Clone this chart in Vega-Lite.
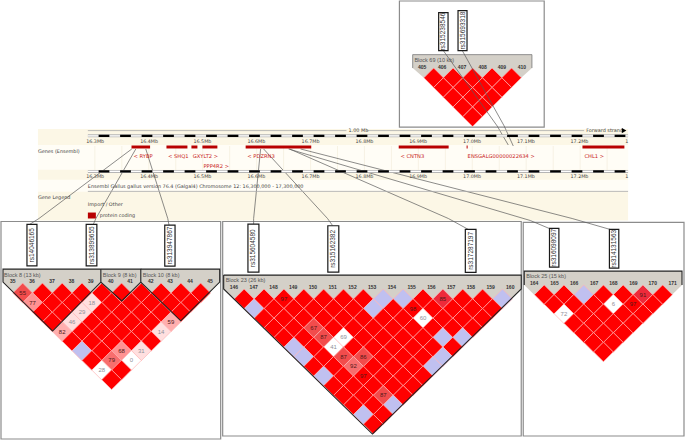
{"$schema":"https://vega.github.io/schema/vega-lite/v6.json","width":685,"height":440,"padding":0,"autosize":{"type":"fit","contains":"padding"},"background":"white","config":{"view":{"stroke":null}},"resolve":{"scale":{"x":"independent","y":"independent"}},
"datasets":{
"bands":[{"x":37,"x2":628,"y":130,"y2":222}],
"paleBands":[{"x":37,"x2":628,"y":146,"y2":171},{"x":37,"x2":628,"y":181,"y2":193}],
"gridTicks":[{"x":94},{"x":121},{"x":148},{"x":175},{"x":202},{"x":229},{"x":256},{"x":283},{"x":310},{"x":337},{"x":364},{"x":391},{"x":418},{"x":445},{"x":472},{"x":499},{"x":526},{"x":553},{"x":580},{"x":607}],
"frames":[{"x":0,"x2":220,"y":223,"y2":442},{"x":222,"x2":521,"y":223,"y2":439},{"x":523,"x2":684,"y":224,"y2":439},{"x":399,"x2":544,"y":1,"y2":128}],
"headers":[{"panel":"A","x":2,"y":271,"y2":284},{"panel":"A","x":12.7,"y":271,"y2":295},{"panel":"A","x":209,"y":271,"y2":295},{"panel":"A","x":219,"y":271,"y2":284},{"panel":"B","x":223,"y":277,"y2":291},{"panel":"B","x":233.5,"y":277,"y2":301},{"panel":"B","x":511,"y":277,"y2":301},{"panel":"B","x":521,"y":277,"y2":291},{"panel":"C","x":524,"y":273,"y2":287},{"panel":"C","x":534,"y":273,"y2":296.7},{"panel":"C","x":672,"y":273,"y2":296.7},{"panel":"C","x":682,"y":273,"y2":287},{"panel":"D","x":412.3,"y":55,"y2":68.5},{"panel":"D","x":423.5,"y":55,"y2":78.3},{"panel":"D","x":521,"y":55,"y2":78.3},{"panel":"D","x":531.7,"y":55,"y2":68.5}],
"cellsA":[{"p":0,"r":0,"ld":"t80","t":"55"},{"p":1,"r":0,"ld":"s"},{"p":2,"r":0,"ld":"s"},{"p":3,"r":0,"ld":"s"},{"p":4,"r":0,"ld":"s"},{"p":5,"r":0,"ld":"s"},{"p":6,"r":0,"ld":"s"},{"p":7,"r":0,"ld":"s"},{"p":8,"r":0,"ld":"s"},{"p":9,"r":0,"ld":"s"},
{"p":0.5,"r":1,"ld":"t60","t":"77"},{"p":1.5,"r":1,"ld":"s"},{"p":2.5,"r":1,"ld":"s"},{"p":3.5,"r":1,"ld":"t20","t":"18"},{"p":4.5,"r":1,"ld":"s"},{"p":5.5,"r":1,"ld":"s"},{"p":6.5,"r":1,"ld":"s"},{"p":7.5,"r":1,"ld":"s"},{"p":8.5,"r":1,"ld":"s"},
{"p":1,"r":2,"ld":"s"},{"p":2,"r":2,"ld":"s"},{"p":3,"r":2,"ld":"t20","t":"29"},{"p":4,"r":2,"ld":"s"},{"p":5,"r":2,"ld":"s"},{"p":6,"r":2,"ld":"s"},{"p":7,"r":2,"ld":"s"},{"p":8,"r":2,"ld":"s"},
{"p":1.5,"r":3,"ld":"s"},{"p":2.5,"r":3,"ld":"t20","t":"46"},{"p":3.5,"r":3,"ld":"s"},{"p":4.5,"r":3,"ld":"s"},{"p":5.5,"r":3,"ld":"s"},{"p":6.5,"r":3,"ld":"s"},{"p":7.5,"r":3,"ld":"t50","t":"59"},
{"p":2,"r":4,"ld":"t50","t":"82"},{"p":3,"r":4,"ld":"s"},{"p":4,"r":4,"ld":"s"},{"p":5,"r":4,"ld":"s"},{"p":6,"r":4,"ld":"s"},{"p":7,"r":4,"ld":"t20","t":"14"},
{"p":2.5,"r":5,"ld":"s"},{"p":3.5,"r":5,"ld":"s"},{"p":4.5,"r":5,"ld":"s"},{"p":5.5,"r":5,"ld":"s"},{"p":6.5,"r":5,"ld":"s"},
{"p":3,"r":6,"ld":"b"},{"p":4,"r":6,"ld":"s"},{"p":5,"r":6,"ld":"t60","t":"68"},{"p":6,"r":6,"ld":"t20","t":"31"},
{"p":3.5,"r":7,"ld":"s"},{"p":4.5,"r":7,"ld":"t70","t":"79"},{"p":5.5,"r":7,"ld":"o","t":"0"},
{"p":4,"r":8,"ld":"o","t":"28"},{"p":5,"r":8,"ld":"s"},
{"p":4.5,"r":9,"ld":"s"}],
"cellsB":[{"p":0,"r":0,"ld":"s"},{"p":1,"r":0,"ld":"s"},{"p":2,"r":0,"ld":"s","t":"97"},{"p":3,"r":0,"ld":"s"},{"p":4,"r":0,"ld":"s"},{"p":5,"r":0,"ld":"s"},{"p":6,"r":0,"ld":"s"},{"p":7,"r":0,"ld":"b"},{"p":8,"r":0,"ld":"b"},{"p":9,"r":0,"ld":"s"},{"p":10,"r":0,"ld":"t90","t":"85"},{"p":11,"r":0,"ld":"s"},{"p":12,"r":0,"ld":"s"},{"p":13,"r":0,"ld":"b"},
{"p":0.5,"r":1,"ld":"b"},{"p":1.5,"r":1,"ld":"s"},{"p":2.5,"r":1,"ld":"s"},{"p":3.5,"r":1,"ld":"s"},{"p":4.5,"r":1,"ld":"s"},{"p":5.5,"r":1,"ld":"s"},{"p":6.5,"r":1,"ld":"b"},{"p":7.5,"r":1,"ld":"s"},{"p":8.5,"r":1,"ld":"s","t":"98"},{"p":9.5,"r":1,"ld":"s"},{"p":10.5,"r":1,"ld":"s"},{"p":11.5,"r":1,"ld":"s"},{"p":12.5,"r":1,"ld":"s"},
{"p":1,"r":2,"ld":"s"},{"p":2,"r":2,"ld":"s"},{"p":3,"r":2,"ld":"s"},{"p":4,"r":2,"ld":"s"},{"p":5,"r":2,"ld":"s"},{"p":6,"r":2,"ld":"s"},{"p":7,"r":2,"ld":"s"},{"p":8,"r":2,"ld":"s"},{"p":9,"r":2,"ld":"o","t":"60"},{"p":10,"r":2,"ld":"s"},{"p":11,"r":2,"ld":"s"},{"p":12,"r":2,"ld":"s"},
{"p":1.5,"r":3,"ld":"s"},{"p":2.5,"r":3,"ld":"s"},{"p":3.5,"r":3,"ld":"t80","t":"67"},{"p":4.5,"r":3,"ld":"s"},{"p":5.5,"r":3,"ld":"s"},{"p":6.5,"r":3,"ld":"s"},{"p":7.5,"r":3,"ld":"s"},{"p":8.5,"r":3,"ld":"s"},{"p":9.5,"r":3,"ld":"s"},{"p":10.5,"r":3,"ld":"s"},{"p":11.5,"r":3,"ld":"s"},
{"p":2,"r":4,"ld":"s"},{"p":3,"r":4,"ld":"s"},{"p":4,"r":4,"ld":"t80","t":"87"},{"p":5,"r":4,"ld":"o","t":"69"},{"p":6,"r":4,"ld":"s"},{"p":7,"r":4,"ld":"s"},{"p":8,"r":4,"ld":"s"},{"p":9,"r":4,"ld":"s"},{"p":10,"r":4,"ld":"b"},{"p":11,"r":4,"ld":"b"},
{"p":2.5,"r":5,"ld":"b"},{"p":3.5,"r":5,"ld":"s"},{"p":4.5,"r":5,"ld":"o","t":"41"},{"p":5.5,"r":5,"ld":"s"},{"p":6.5,"r":5,"ld":"s"},{"p":7.5,"r":5,"ld":"s"},{"p":8.5,"r":5,"ld":"s"},{"p":9.5,"r":5,"ld":"s"},{"p":10.5,"r":5,"ld":"s"},
{"p":3,"r":6,"ld":"b"},{"p":4,"r":6,"ld":"s"},{"p":5,"r":6,"ld":"t80","t":"87"},{"p":6,"r":6,"ld":"t80","t":"86"},{"p":7,"r":6,"ld":"s"},{"p":8,"r":6,"ld":"s"},{"p":9,"r":6,"ld":"s"},{"p":10,"r":6,"ld":"b"},
{"p":3.5,"r":7,"ld":"s"},{"p":4.5,"r":7,"ld":"s"},{"p":5.5,"r":7,"ld":"t70","t":"92"},{"p":6.5,"r":7,"ld":"s"},{"p":7.5,"r":7,"ld":"s"},{"p":8.5,"r":7,"ld":"s"},{"p":9.5,"r":7,"ld":"b"},
{"p":4,"r":8,"ld":"b"},{"p":5,"r":8,"ld":"s"},{"p":6,"r":8,"ld":"s","t":"97"},{"p":7,"r":8,"ld":"s"},{"p":8,"r":8,"ld":"s"},{"p":9,"r":8,"ld":"s"},
{"p":4.5,"r":9,"ld":"s"},{"p":5.5,"r":9,"ld":"s"},{"p":6.5,"r":9,"ld":"s"},{"p":7.5,"r":9,"ld":"s"},{"p":8.5,"r":9,"ld":"s"},
{"p":5,"r":10,"ld":"s"},{"p":6,"r":10,"ld":"s"},{"p":7,"r":10,"ld":"t80","t":"87"},{"p":8,"r":10,"ld":"s"},
{"p":5.5,"r":11,"ld":"s"},{"p":6.5,"r":11,"ld":"s"},{"p":7.5,"r":11,"ld":"b"},
{"p":6,"r":12,"ld":"b"},{"p":7,"r":12,"ld":"s"},
{"p":6.5,"r":13,"ld":"s"}],
"cellsC":[{"p":0,"r":0,"ld":"s"},{"p":1,"r":0,"ld":"s"},{"p":2,"r":0,"ld":"b"},{"p":3,"r":0,"ld":"s"},{"p":4,"r":0,"ld":"s"},{"p":5,"r":0,"ld":"t90","t":"91"},{"p":6,"r":0,"ld":"s"},
{"p":0.5,"r":1,"ld":"s"},{"p":1.5,"r":1,"ld":"s"},{"p":2.5,"r":1,"ld":"s"},{"p":3.5,"r":1,"ld":"o","t":"6"},{"p":4.5,"r":1,"ld":"s","t":"97"},{"p":5.5,"r":1,"ld":"s"},
{"p":1,"r":2,"ld":"o","t":"72"},{"p":2,"r":2,"ld":"s"},{"p":3,"r":2,"ld":"s"},{"p":4,"r":2,"ld":"s"},{"p":5,"r":2,"ld":"s"},
{"p":1.5,"r":3,"ld":"s"},{"p":2.5,"r":3,"ld":"s"},{"p":3.5,"r":3,"ld":"s"},{"p":4.5,"r":3,"ld":"s"},
{"p":2,"r":4,"ld":"s"},{"p":3,"r":4,"ld":"s"},{"p":4,"r":4,"ld":"s"},
{"p":2.5,"r":5,"ld":"s"},{"p":3.5,"r":5,"ld":"s"},
{"p":3,"r":6,"ld":"s"}],
"cellsD":[{"p":0,"r":0,"ld":"s"},{"p":1,"r":0,"ld":"s"},{"p":2,"r":0,"ld":"s"},{"p":3,"r":0,"ld":"s"},{"p":4,"r":0,"ld":"s"},
{"p":0.5,"r":1,"ld":"s"},{"p":1.5,"r":1,"ld":"s"},{"p":2.5,"r":1,"ld":"s"},{"p":3.5,"r":1,"ld":"s"},
{"p":1,"r":2,"ld":"s"},{"p":2,"r":2,"ld":"s"},{"p":3,"r":2,"ld":"s"},
{"p":1.5,"r":3,"ld":"s"},{"p":2.5,"r":3,"ld":"s"},
{"p":2,"r":4,"ld":"s"}],
"outlines":[{"id":"b8","o":0,"x":100,"y":271},{"id":"b8","o":1,"x":2,"y":271},{"id":"b8","o":2,"x":2,"y":284},{"id":"b8","o":3,"x":51.7,"y":333.3},{"id":"b8","o":4,"x":100,"y":284},{"id":"b8","o":5,"x":100,"y":271},
{"id":"b9","o":0,"x":100,"y":271},{"id":"b9","o":1,"x":140,"y":271},{"id":"b9","o":2,"x":140,"y":284},{"id":"b9","o":3,"x":121,"y":303},{"id":"b9","o":4,"x":100,"y":284},
{"id":"b10","o":0,"x":140,"y":271},{"id":"b10","o":1,"x":219,"y":271},{"id":"b10","o":2,"x":219,"y":284},{"id":"b10","o":3,"x":180,"y":323},{"id":"b10","o":4,"x":140,"y":284},
{"id":"b23","o":0,"x":223,"y":277},{"id":"b23","o":1,"x":521,"y":277},{"id":"b23","o":2,"x":521,"y":291},{"id":"b23","o":3,"x":372,"y":437},{"id":"b23","o":4,"x":223,"y":291},{"id":"b23","o":5,"x":223,"y":277},
{"id":"b25","o":0,"x":524,"y":287},{"id":"b25","o":1,"x":524,"y":273},{"id":"b25","o":2,"x":682,"y":273},{"id":"b25","o":3,"x":682,"y":287}],
"softOutlines":[{"id":"b69","o":0,"x":412.3,"y":68.5},{"id":"b69","o":1,"x":412.3,"y":55},{"id":"b69","o":2,"x":531.7,"y":55},{"id":"b69","o":3,"x":531.7,"y":68.5}],
"connectors":[{"id":"c1","o":0,"x":131,"y":150},{"id":"c1","o":1,"x":38,"y":220},{"id":"c1","o":2,"x":27,"y":227},
{"id":"c2","o":0,"x":135,"y":150},{"id":"c2","o":1,"x":95,"y":220},{"id":"c2","o":2,"x":92,"y":227},
{"id":"c3","o":0,"x":145,"y":150},{"id":"c3","o":1,"x":167,"y":220},{"id":"c3","o":2,"x":168.3,"y":227},
{"id":"c4","o":0,"x":260,"y":150},{"id":"c4","o":1,"x":253,"y":220},{"id":"c4","o":2,"x":253,"y":226},
{"id":"c5","o":0,"x":263,"y":150},{"id":"c5","o":1,"x":327,"y":220},{"id":"c5","o":2,"x":332,"y":227},
{"id":"c6","o":0,"x":289,"y":150},{"id":"c6","o":1,"x":448,"y":220},{"id":"c6","o":2,"x":468,"y":231},
{"id":"c7","o":0,"x":288,"y":150},{"id":"c7","o":1,"x":530,"y":222},{"id":"c7","o":2,"x":549,"y":230},
{"id":"c8","o":0,"x":300,"y":150},{"id":"c8","o":1,"x":572,"y":220},{"id":"c8","o":2,"x":610,"y":231},
{"id":"t1","o":0,"x":443,"y":51},{"id":"t1","o":1,"x":497,"y":127},{"id":"t1","o":2,"x":508,"y":146},
{"id":"t2","o":0,"x":462,"y":51},{"id":"t2","o":1,"x":504,"y":127},{"id":"t2","o":2,"x":513,"y":147}],
"snpBoxes":[{"x":26,"x2":36,"y":226,"y2":267.7,"xc":31,"yc":247,"id":"rs14046165"},{"x":85.3,"x2":96,"y":226,"y2":267.7,"xc":90.7,"yc":247,"id":"rs313899655"},{"x":164,"x2":174.3,"y":226.7,"y2":268,"xc":169.2,"yc":247.3,"id":"rs313947867"},{"x":247.3,"x2":258.3,"y":225.7,"y2":274,"xc":252.8,"yc":250,"id":"rs315604580"},{"x":327.3,"x2":338.3,"y":227.3,"y2":274,"xc":332.8,"yc":250.6,"id":"rs315162382"},{"x":465,"x2":475.7,"y":231,"y2":274.3,"xc":470.4,"yc":252.6,"id":"rs317287197"},{"x":549.3,"x2":558.7,"y":230,"y2":269,"xc":554,"yc":249.5,"id":"rs316098097"},{"x":609.3,"x2":618.7,"y":231,"y2":270,"xc":614,"yc":250.5,"id":"rs314131563"},{"x":438.3,"x2":447.7,"y":12.7,"y2":51,"xc":443,"yc":31.8,"id":"rs315238546"},{"x":457.7,"x2":466.7,"y":10.7,"y2":51,"xc":462.2,"yc":30.8,"id":"rs315693318"}],
"snpNumbers":[{"x":11.7,"y":283,"t":"35"},{"x":31,"y":283,"t":"36"},{"x":51,"y":283,"t":"37"},{"x":70.7,"y":283,"t":"38"},{"x":90,"y":283,"t":"39"},{"x":110,"y":283,"t":"40"},{"x":129.3,"y":283,"t":"41"},{"x":150,"y":283,"t":"42"},{"x":169.3,"y":283,"t":"43"},{"x":189.3,"y":283,"t":"44"},{"x":209.3,"y":283,"t":"45"},
{"x":233.3,"y":288.7,"t":"146"},{"x":253.1,"y":288.7,"t":"147"},{"x":272.9,"y":288.7,"t":"148"},{"x":292.6,"y":288.7,"t":"149"},{"x":312.4,"y":288.7,"t":"150"},{"x":332.2,"y":288.7,"t":"151"},{"x":352,"y":288.7,"t":"152"},{"x":371.7,"y":288.7,"t":"153"},{"x":391.5,"y":288.7,"t":"154"},{"x":411.3,"y":288.7,"t":"155"},{"x":431,"y":288.7,"t":"156"},{"x":450.8,"y":288.7,"t":"157"},{"x":470.6,"y":288.7,"t":"158"},{"x":490.4,"y":288.7,"t":"159"},{"x":510,"y":288.7,"t":"160"},
{"x":534,"y":285,"t":"164"},{"x":554.3,"y":285,"t":"165"},{"x":574,"y":285,"t":"166"},{"x":594,"y":285,"t":"167"},{"x":613.3,"y":285,"t":"168"},{"x":633.3,"y":285,"t":"169"},{"x":652.7,"y":285,"t":"170"},{"x":672.7,"y":285,"t":"171"},
{"x":421.7,"y":67,"t":"405"},{"x":441.7,"y":67,"t":"406"},{"x":461.7,"y":67,"t":"407"},{"x":482.3,"y":67,"t":"408"},{"x":501.7,"y":67,"t":"409"},{"x":521.7,"y":67,"t":"410"}],
"blockTitles":[{"x":3,"y":276.5,"t":"Block 8 (13 kb)"},{"x":102,"y":276.5,"t":"Block 9 (8 kb)"},{"x":142,"y":276.5,"t":"Block 10 (8 kb)"},{"x":225,"y":282,"t":"Block 23 (26 kb)"},{"x":526,"y":278,"t":"Block 25 (15 kb)"},{"x":414,"y":60.7,"t":"Block 69 (10 kb)"}],
"genes":[{"x":130.7,"x2":149.3,"y":146.5,"y2":149.5},{"x":165.7,"x2":186.7,"y":146.5,"y2":149.5},{"x":190.7,"x2":196.7,"y":146.5,"y2":149.5},{"x":201.7,"x2":216.7,"y":146.5,"y2":149.5},{"x":245,"x2":310.7,"y":146.5,"y2":149.5},{"x":398.3,"x2":448.3,"y":146.5,"y2":149.5},{"x":466.3,"x2":467.3,"y":146.5,"y2":149.5},{"x":582.3,"x2":624.3,"y":146.5,"y2":149.5},{"x":87,"x2":95,"y":214,"y2":220}],
"geneNames":[{"x":132.7,"y":157,"t":"< RYBP"},{"x":167.3,"y":157,"t":"< SHQ1"},{"x":192,"y":157,"t":"GXYLT2 >"},{"x":202.7,"y":167,"t":"PPP4R2 >"},{"x":246.7,"y":157,"t":"< PDZRN3"},{"x":400,"y":157,"t":"< CNTN3"},{"x":467.3,"y":157,"t":"ENSGALG00000022634 >"},{"x":584.3,"y":157,"t":"CHL1 >"}],
"mbLabels":[{"x":94.3,"y":142.7,"t":"16.3Mb"},{"x":148.3,"y":142.7,"t":"16.4Mb"},{"x":201.7,"y":142.7,"t":"16.5Mb"},{"x":255.7,"y":142.7,"t":"16.6Mb"},{"x":310,"y":142.7,"t":"16.7Mb"},{"x":364,"y":142.7,"t":"16.8Mb"},{"x":417.7,"y":142.7,"t":"16.9Mb"},{"x":471.7,"y":142.7,"t":"17.0Mb"},{"x":525.7,"y":142.7,"t":"17.1Mb"},{"x":579.3,"y":142.7,"t":"17.2Mb"},{"x":626.7,"y":142.7,"t":"1"},
{"x":94.3,"y":178.7,"t":"16.3Mb"},{"x":148.3,"y":178.7,"t":"16.4Mb"},{"x":201.7,"y":178.7,"t":"16.5Mb"},{"x":255.7,"y":178.7,"t":"16.6Mb"},{"x":310,"y":178.7,"t":"16.7Mb"},{"x":364,"y":178.7,"t":"16.8Mb"},{"x":417.7,"y":178.7,"t":"16.9Mb"},{"x":471.7,"y":178.7,"t":"17.0Mb"},{"x":525.7,"y":178.7,"t":"17.1Mb"},{"x":579.3,"y":178.7,"t":"17.2Mb"},{"x":626.7,"y":178.7,"t":"1"}],
"sideText":[{"x":37,"y":152.7,"t":"Genes (Ensembl)"},{"x":37,"y":199,"t":"Gene Legend"},{"x":87,"y":206,"t":"Import / Other"},{"x":99,"y":217.5,"t":"protein coding"},{"x":87,"y":188.3,"t":"Ensembl Gallus gallus version 76.4 (Galgal4) Chromosome 12: 16,300,000 - 17,300,000"},{"x":348,"y":131.5,"t":"1.00 Mb"},{"x":586,"y":131.5,"t":"Forward strand"}],
"rulerLines":[{"x":87,"x2":346,"y":131.5},{"x":366,"x2":584,"y":131.5},{"x":87,"x2":628,"y":192.7}],
"tracks":[{"x":87,"x2":628,"y":136.8},{"x":87,"x2":628,"y":172.6}],
"arrow":[{"x":624,"y":131.5}]
},
"layer":[
{"data":{"name":"bands"},"mark":{"type":"rect","fill":"#fcf7e6"},"encoding":{"x":{"field":"x","type":"quantitative","scale":{"domain":[0,685],"nice":false,"zero":false},"axis":null},"x2":{"field":"x2"},"y":{"field":"y","type":"quantitative","scale":{"domain":[440,0],"nice":false,"zero":false},"axis":null},"y2":{"field":"y2"}}},
{"data":{"name":"paleBands"},"mark":{"type":"rect","fill":"#fffdf6"},"encoding":{"x":{"field":"x","type":"quantitative","scale":{"domain":[0,685],"nice":false,"zero":false},"axis":null},"x2":{"field":"x2"},"y":{"field":"y","type":"quantitative","scale":{"domain":[440,0],"nice":false,"zero":false},"axis":null},"y2":{"field":"y2"}}},
{"data":{"name":"gridTicks"},"mark":{"type":"rule","stroke":"#f3eedd","strokeWidth":0.7,"y":146,"y2":171},"encoding":{"x":{"field":"x","type":"quantitative","scale":{"domain":[0,685],"nice":false,"zero":false},"axis":null}}},
{"data":{"name":"frames"},"mark":{"type":"rect","fill":"#ffffff","stroke":"#8c8c8c","strokeWidth":1.2},"encoding":{"x":{"field":"x","type":"quantitative","scale":{"domain":[0,685],"nice":false,"zero":false},"axis":null},"x2":{"field":"x2"},"y":{"field":"y","type":"quantitative","scale":{"domain":[440,0],"nice":false,"zero":false},"axis":null},"y2":{"field":"y2"}}},
{"data":{"name":"headers"},"mark":{"type":"area","fill":"#d4d0c8","opacity":1},"encoding":{"detail":{"field":"panel"},"x":{"field":"x","type":"quantitative","scale":{"domain":[0,685],"nice":false,"zero":false},"axis":null},"y":{"field":"y","type":"quantitative","scale":{"domain":[440,0],"nice":false,"zero":false},"axis":null},"y2":{"field":"y2"}}},
{"data":{"name":"cellsA"},"mark":{"type":"point","shape":"diamond","filled":true,"opacity":1,"size":392,"stroke":"#ffb4b4","strokeWidth":0.7},"encoding":{"x":{"field":"p","type":"quantitative","scale":{"domain":[-1.096,33.5],"nice":false,"zero":false},"axis":null},"y":{"field":"r","type":"quantitative","scale":{"domain":[14.948,-30.412],"nice":false,"zero":false},"axis":null},"color":{"field":"ld","type":"nominal","legend":null,"scale":{"domain":["s","b","o","t90","t80","t70","t60","t50","t20"],"range":["#ff0000","#c0c0f0","#ffffff","#ee2a3a","#f24c4c","#f76e6e","#ff9292","#ffaeae","#ffdfdf"]}}}},
{"data":{"name":"cellsA"},"transform":[{"filter":"isValid(datum.t)"}],"mark":{"type":"text","font":"Liberation Sans","fontSize":6},"encoding":{"text":{"field":"t"},"x":{"field":"p","type":"quantitative","scale":{"domain":[-1.096,33.5],"nice":false,"zero":false},"axis":null},"y":{"field":"r","type":"quantitative","scale":{"domain":[14.948,-30.412],"nice":false,"zero":false},"axis":null},"color":{"condition":{"test":"datum.ld==='o'||datum.ld==='t20'","value":"#8f8f98"},"value":"#501818"}}},
{"data":{"name":"cellsB"},"mark":{"type":"point","shape":"diamond","filled":true,"opacity":1,"size":392,"stroke":"#ffb4b4","strokeWidth":0.7},"encoding":{"x":{"field":"p","type":"quantitative","scale":{"domain":[-12.236,22.186],"nice":false,"zero":false},"axis":null},"y":{"field":"r","type":"quantitative","scale":{"domain":[14.33,-31.03],"nice":false,"zero":false},"axis":null},"color":{"field":"ld","type":"nominal","legend":null,"scale":{"domain":["s","b","o","t90","t80","t70","t60","t50","t20"],"range":["#ff0000","#c0c0f0","#ffffff","#ee2a3a","#f24c4c","#f76e6e","#ff9292","#ffaeae","#ffdfdf"]}}}},
{"data":{"name":"cellsB"},"transform":[{"filter":"isValid(datum.t)"}],"mark":{"type":"text","font":"Liberation Sans","fontSize":6},"encoding":{"text":{"field":"t"},"x":{"field":"p","type":"quantitative","scale":{"domain":[-12.236,22.186],"nice":false,"zero":false},"axis":null},"y":{"field":"r","type":"quantitative","scale":{"domain":[14.33,-31.03],"nice":false,"zero":false},"axis":null},"color":{"condition":{"test":"datum.ld==='o'||datum.ld==='t20'","value":"#8f8f98"},"value":"#501818"}}},
{"data":{"name":"cellsC"},"mark":{"type":"point","shape":"diamond","filled":true,"opacity":1,"size":384,"stroke":"#ffb4b4","strokeWidth":0.7},"encoding":{"x":{"field":"p","type":"quantitative","scale":{"domain":[-27.516,7.132],"nice":false,"zero":false},"axis":null},"y":{"field":"r","type":"quantitative","scale":{"domain":[14.927,-30.906],"nice":false,"zero":false},"axis":null},"color":{"field":"ld","type":"nominal","legend":null,"scale":{"domain":["s","b","o","t90","t80","t70","t60","t50","t20"],"range":["#ff0000","#c0c0f0","#ffffff","#ee2a3a","#f24c4c","#f76e6e","#ff9292","#ffaeae","#ffdfdf"]}}}},
{"data":{"name":"cellsC"},"transform":[{"filter":"isValid(datum.t)"}],"mark":{"type":"text","font":"Liberation Sans","fontSize":6},"encoding":{"text":{"field":"t"},"x":{"field":"p","type":"quantitative","scale":{"domain":[-27.516,7.132],"nice":false,"zero":false},"axis":null},"y":{"field":"r","type":"quantitative","scale":{"domain":[14.927,-30.906],"nice":false,"zero":false},"axis":null},"color":{"condition":{"test":"datum.ld==='o'||datum.ld==='t20'","value":"#8f8f98"},"value":"#501818"}}},
{"data":{"name":"cellsD"},"mark":{"type":"point","shape":"diamond","filled":true,"opacity":1,"size":384,"stroke":"#ffb4b4","strokeWidth":0.7},"encoding":{"x":{"field":"p","type":"quantitative","scale":{"domain":[-22.221,12.908],"nice":false,"zero":false},"axis":null},"y":{"field":"r","type":"quantitative","scale":{"domain":[36.908,-7.99],"nice":false,"zero":false},"axis":null},"color":{"field":"ld","type":"nominal","legend":null,"scale":{"domain":["s","b","o","t90","t80","t70","t60","t50","t20"],"range":["#ff0000","#c0c0f0","#ffffff","#ee2a3a","#f24c4c","#f76e6e","#ff9292","#ffaeae","#ffdfdf"]}}}},
{"data":{"name":"outlines"},"mark":{"type":"line","stroke":"#222222","strokeWidth":1.1},"encoding":{"detail":{"field":"id"},"order":{"field":"o"},"x":{"field":"x","type":"quantitative","scale":{"domain":[0,685],"nice":false,"zero":false},"axis":null},"y":{"field":"y","type":"quantitative","scale":{"domain":[440,0],"nice":false,"zero":false},"axis":null}}},
{"data":{"name":"softOutlines"},"mark":{"type":"line","stroke":"#777777","strokeWidth":0.8},"encoding":{"detail":{"field":"id"},"order":{"field":"o"},"x":{"field":"x","type":"quantitative","scale":{"domain":[0,685],"nice":false,"zero":false},"axis":null},"y":{"field":"y","type":"quantitative","scale":{"domain":[440,0],"nice":false,"zero":false},"axis":null}}},
{"data":{"name":"connectors"},"mark":{"type":"line","stroke":"#5a5a5a","strokeWidth":0.7},"encoding":{"detail":{"field":"id"},"order":{"field":"o"},"x":{"field":"x","type":"quantitative","scale":{"domain":[0,685],"nice":false,"zero":false},"axis":null},"y":{"field":"y","type":"quantitative","scale":{"domain":[440,0],"nice":false,"zero":false},"axis":null}}},
{"data":{"name":"snpBoxes"},"mark":{"type":"rect","fill":"#ffffff","stroke":"#1a1a1a","strokeWidth":1.2},"encoding":{"x":{"field":"x","type":"quantitative","scale":{"domain":[0,685],"nice":false,"zero":false},"axis":null},"x2":{"field":"x2"},"y":{"field":"y","type":"quantitative","scale":{"domain":[440,0],"nice":false,"zero":false},"axis":null},"y2":{"field":"y2"}}},
{"data":{"name":"snpBoxes"},"mark":{"type":"text","font":"Liberation Sans","fontSize":6.5,"angle":270,"fill":"#333333"},"encoding":{"text":{"field":"id"},"x":{"field":"xc","type":"quantitative","scale":{"domain":[0,685],"nice":false,"zero":false},"axis":null},"y":{"field":"yc","type":"quantitative","scale":{"domain":[440,0],"nice":false,"zero":false},"axis":null}}},
{"data":{"name":"snpNumbers"},"mark":{"type":"text","font":"Liberation Sans","fontSize":5,"fontWeight":"bold","fill":"#333333"},"encoding":{"text":{"field":"t"},"x":{"field":"x","type":"quantitative","scale":{"domain":[0,685],"nice":false,"zero":false},"axis":null},"y":{"field":"y","type":"quantitative","scale":{"domain":[440,0],"nice":false,"zero":false},"axis":null}}},
{"data":{"name":"blockTitles"},"mark":{"type":"text","font":"Liberation Sans","fontSize":5.5,"align":"left","fill":"#555555"},"encoding":{"text":{"field":"t"},"x":{"field":"x","type":"quantitative","scale":{"domain":[0,685],"nice":false,"zero":false},"axis":null},"y":{"field":"y","type":"quantitative","scale":{"domain":[440,0],"nice":false,"zero":false},"axis":null}}},
{"data":{"name":"rulerLines"},"mark":{"type":"rule","stroke":"#aaaaaa","strokeWidth":0.8},"encoding":{"x":{"field":"x","type":"quantitative","scale":{"domain":[0,685],"nice":false,"zero":false},"axis":null},"x2":{"field":"x2"},"y":{"field":"y","type":"quantitative","scale":{"domain":[440,0],"nice":false,"zero":false},"axis":null}}},
{"data":{"name":"tracks"},"mark":{"type":"rule","stroke":"#b5b5b5","strokeWidth":3},"encoding":{"x":{"field":"x","type":"quantitative","scale":{"domain":[0,685],"nice":false,"zero":false},"axis":null},"x2":{"field":"x2"},"y":{"field":"y","type":"quantitative","scale":{"domain":[440,0],"nice":false,"zero":false},"axis":null}}},
{"data":{"name":"tracks"},"mark":{"type":"rule","stroke":"#ffffff","strokeWidth":1.2},"encoding":{"x":{"field":"x","type":"quantitative","scale":{"domain":[0,685],"nice":false,"zero":false},"axis":null},"x2":{"field":"x2"},"y":{"field":"y","type":"quantitative","scale":{"domain":[440,0],"nice":false,"zero":false},"axis":null}}},
{"data":{"name":"tracks"},"mark":{"type":"rule","stroke":"#000000","strokeWidth":2.2,"strokeDash":[10.75,10.75],"strokeDashOffset":10.75},"encoding":{"x":{"field":"x","type":"quantitative","scale":{"domain":[0,685],"nice":false,"zero":false},"axis":null},"x2":{"field":"x2"},"y":{"field":"y","type":"quantitative","scale":{"domain":[440,0],"nice":false,"zero":false},"axis":null}}},
{"data":{"name":"genes"},"mark":{"type":"rect","fill":"#b80000"},"encoding":{"x":{"field":"x","type":"quantitative","scale":{"domain":[0,685],"nice":false,"zero":false},"axis":null},"x2":{"field":"x2"},"y":{"field":"y","type":"quantitative","scale":{"domain":[440,0],"nice":false,"zero":false},"axis":null},"y2":{"field":"y2"}}},
{"data":{"name":"geneNames"},"mark":{"type":"text","font":"DejaVu Sans","fontSize":5.2,"align":"left","fill":"#c81818"},"encoding":{"text":{"field":"t"},"x":{"field":"x","type":"quantitative","scale":{"domain":[0,685],"nice":false,"zero":false},"axis":null},"y":{"field":"y","type":"quantitative","scale":{"domain":[440,0],"nice":false,"zero":false},"axis":null}}},
{"data":{"name":"mbLabels"},"mark":{"type":"text","font":"DejaVu Sans","fontSize":4.8,"fill":"#444444"},"encoding":{"text":{"field":"t"},"x":{"field":"x","type":"quantitative","scale":{"domain":[0,685],"nice":false,"zero":false},"axis":null},"y":{"field":"y","type":"quantitative","scale":{"domain":[440,0],"nice":false,"zero":false},"axis":null}}},
{"data":{"name":"sideText"},"mark":{"type":"text","font":"DejaVu Sans","fontSize":4.9,"align":"left","fill":"#444444"},"encoding":{"text":{"field":"t"},"x":{"field":"x","type":"quantitative","scale":{"domain":[0,685],"nice":false,"zero":false},"axis":null},"y":{"field":"y","type":"quantitative","scale":{"domain":[440,0],"nice":false,"zero":false},"axis":null}}},
{"data":{"name":"arrow"},"mark":{"type":"point","shape":"triangle-right","filled":true,"opacity":1,"size":28,"fill":"#000000"},"encoding":{"x":{"field":"x","type":"quantitative","scale":{"domain":[0,685],"nice":false,"zero":false},"axis":null},"y":{"field":"y","type":"quantitative","scale":{"domain":[440,0],"nice":false,"zero":false},"axis":null}}}
]}
